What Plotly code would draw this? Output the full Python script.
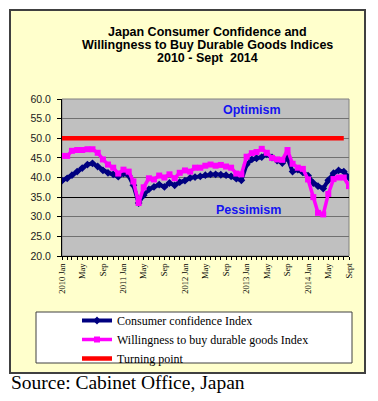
import pandas as pd
import plotly.graph_objects as go

# ---- data ----
months = list(pd.date_range("2010-01-01", periods=57, freq="MS"))

consumer_confidence = [
    39.2, 39.8, 40.6, 41.5, 42.4, 43.3, 43.6, 42.8, 41.8, 41.2, 40.8, 40.2,   # 2010
    41.0, 40.5, 38.0, 33.5, 35.5, 37.0, 37.6, 38.2, 37.6, 38.6, 38.0, 38.8,   # 2011
    39.2, 39.9, 40.1, 40.3, 40.6, 40.8, 40.8, 40.7, 40.6, 40.3, 39.7, 39.3,   # 2012
    43.3, 44.6, 44.9, 45.2, 45.9, 45.1, 44.3, 43.7, 45.0, 41.5, 42.0, 41.3,   # 2013
    40.5, 38.6, 37.8, 37.2, 39.3, 41.1, 41.8, 41.5, 40.0,                     # 2014
]
durable_goods = [
    45.5, 45.5, 46.8, 47.0, 47.0, 47.2, 47.2, 46.3, 44.6, 43.3, 42.5, 41.0,   # 2010
    42.0, 41.5, 39.0, 33.5, 37.5, 39.8, 39.5, 40.5, 40.0, 40.8, 39.8, 41.2,   # 2011
    41.8, 41.5, 42.5, 42.5, 43.0, 43.3, 43.0, 43.2, 42.8, 42.5, 41.0, 40.8,   # 2012
    45.3, 46.2, 46.5, 47.3, 46.3, 45.0, 44.6, 44.5, 47.0, 43.5, 42.5, 42.2,   # 2013
    39.5, 35.0, 31.0, 30.6, 35.8, 39.6, 40.0, 40.0, 37.8,                     # 2014
]
turning_point = [50.0] * 56

tick_labels = ["2010 Jan", "May", "Sep", "2011 Jan", "May", "Sep",
               "2012 Jan", "May", "Sep", "2013 Jan", "May", "Sep",
               "2014 Jan", "May", "Sept"]
y_ticks = [20, 25, 30, 35, 40, 45, 50, 55, 60]

title_lines = ["Japan Consumer Confidence and",
               "Willingness to Buy Durable Goods Indices",
               "2010 - Sept  2014"]

SANS = "Liberation Sans, Arial, sans-serif"
SERIF = "Liberation Serif, Times New Roman, serif"

fig = go.Figure()
fig.add_trace(go.Scatter(
    x=months, y=consumer_confidence, name="Consumer confidence Index",
    mode="lines+markers", line=dict(color="#000080", width=4),
    marker=dict(symbol="diamond", size=6, color="#000080"),
))
fig.add_trace(go.Scatter(
    x=months, y=durable_goods, name="Willingness to buy durable goods Index",
    mode="lines+markers", line=dict(color="#FF00FF", width=3.5),
    marker=dict(symbol="square", size=6, color="#FF00FF"),
))
fig.add_trace(go.Scatter(
    x=months[:len(turning_point)], y=turning_point, name="Turning point",
    mode="lines", line=dict(color="#FF0000", width=4.5), yaxis="y2",
))

# The page body has an 8px margin, so the figure is drawn 8px in from the
# top-left of the window. Plot area in window px: x 62..349, y 99..256.
OFF = 8
W, H = 378 - OFF, 401 - OFF
L, T = 62 - OFF, 99 - OFF
R = W - (349 - OFF)
B = H - (256 - OFF)
PW, PH = 349 - 62, 256 - 99
def px(x):
    return (x - 62) / PW
def py(y):
    return (256 - y) / PH

shapes = [
    # outer pale-yellow frame
    dict(type="rect", xref="paper", yref="paper", layer="below",
         x0=px(10), x1=px(365), y0=py(373), y1=py(10),
         fillcolor="#FFFFCC", line=dict(color="#404040", width=2)),
    # plot area
    dict(type="rect", xref="paper", yref="paper", layer="below",
         x0=0, x1=1, y0=0, y1=1,
         fillcolor="#C0C0C0", line=dict(color="#808080", width=1)),
    # legend box
    dict(type="rect", xref="paper", yref="paper", layer="above",
         x0=px(36), x1=px(352), y0=py(363), y1=py(312),
         fillcolor="#FFFFFF", line=dict(color="#404040", width=1)),
]

annotations = []
for line, yc in zip(title_lines, [32, 45, 58]):
    annotations.append(dict(
        text="<b>%s</b>" % line, xref="paper", yref="paper",
        x=px(207), y=py(yc), xanchor="center", yanchor="middle",
        showarrow=False, font=dict(family=SANS, size=12.5, color="#000000")))
annotations += [
    dict(text="<b>Optimism</b>", xref="paper", yref="paper",
         x=px(252), y=py(110), xanchor="center", yanchor="middle",
         showarrow=False, font=dict(family=SANS, size=12.5, color="#1414F0")),
    dict(text="<b>Pessimism</b>", xref="paper", yref="paper",
         x=px(248), y=py(210), xanchor="center", yanchor="middle",
         showarrow=False, font=dict(family=SANS, size=12.5, color="#1414F0")),
    dict(text="Source: Cabinet Office, Japan", xref="paper", yref="paper",
         x=px(9), y=py(382), xanchor="left", yanchor="middle",
         showarrow=False, font=dict(family=SERIF, size=19.5, color="#000000")),
]

fig.update_layout(
    width=W, height=H,
    margin=dict(l=L, r=R, t=T, b=B, pad=0),
    paper_bgcolor="#FFFFFF",
    plot_bgcolor="rgba(0,0,0,0)",
    shapes=shapes,
    annotations=annotations,
    showlegend=True,
    legend=dict(
        x=px(77), y=py(306), xanchor="left", yanchor="top",
        bgcolor="rgba(0,0,0,0)", borderwidth=0,
        font=dict(family=SERIF, size=12, color="#000000"),
        traceorder="normal",
    ),
    xaxis=dict(
        type="date",
        range=[months[0], months[-1]],
        tickmode="array", tickvals=months[::4], ticktext=tick_labels,
        tickangle=-90,
        tickfont=dict(family=SERIF, size=8.5, color="#000000"),
        ticks="outside", ticklen=3, tickcolor="#000000", tickwidth=1,
        minor=dict(dtick="M1", tick0=months[0], ticks="outside", ticklen=3,
                   tickcolor="#000000", showgrid=False),
        showgrid=False, zeroline=False,
        showline=True, linecolor="#000000", linewidth=1,
    ),
    yaxis=dict(
        range=[20, 60], tickmode="array", tickvals=y_ticks,
        tickformat=".1f",
        tickfont=dict(family=SANS, size=10.5, color="#222222"),
        ticks="outside", ticklen=4, tickcolor="#000000",
        ticklabelstandoff=4,
        showgrid=True, gridcolor="#707070", gridwidth=1,
        zeroline=False,
        showline=True, linecolor="#000000", linewidth=1,
    ),
    yaxis2=dict(
        overlaying="y", side="left", range=[20, 60],
        tickmode="array", tickvals=[35], showticklabels=False, ticks="",
        showgrid=True, gridcolor="#000000", gridwidth=1,
        zeroline=False, showline=False,
    ),
)

fig.write_html("out.html")
